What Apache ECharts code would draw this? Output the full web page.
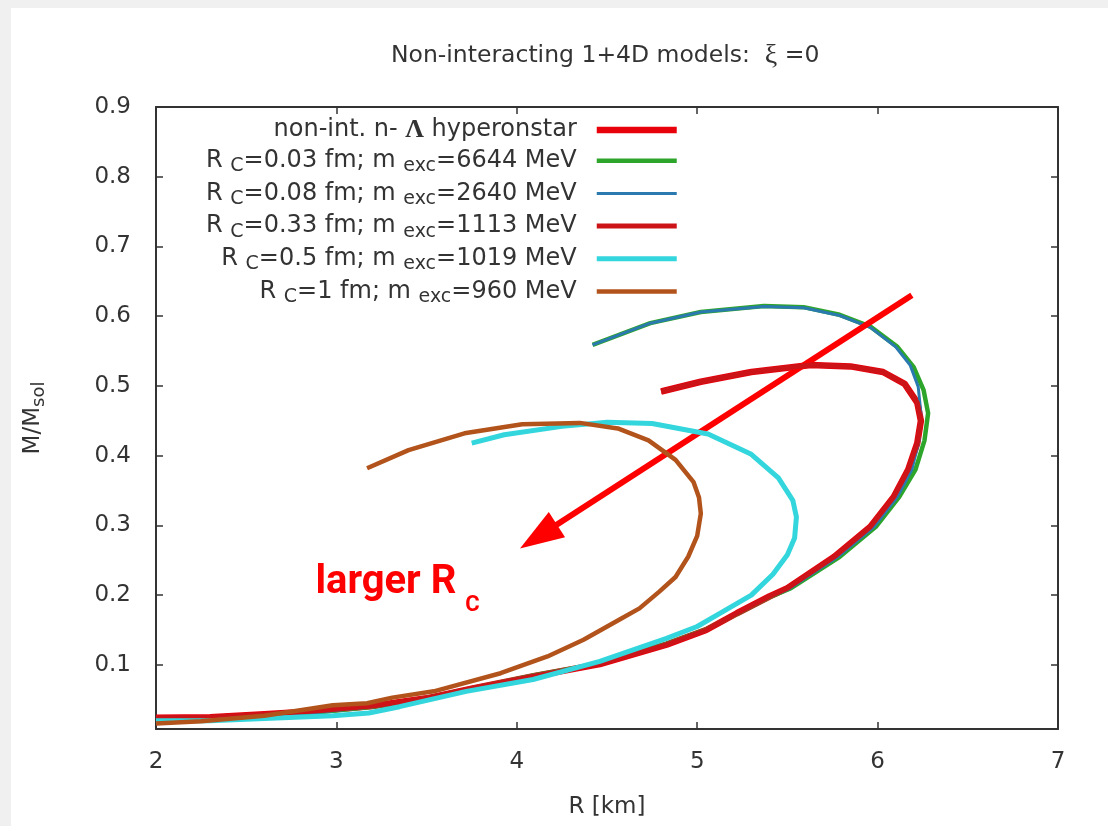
<!DOCTYPE html>
<html>
<head>
<meta charset="utf-8">
<script src="https://cdn.jsdelivr.net/npm/echarts@6/dist/echarts.min.js"></script>
<style>
  html, body { margin: 0; padding: 0; background: #ffffff; }
  #chart { width: 1108px; height: 826px; }
</style>
</head>
<body>
<div id="chart"></div>
<script>
// Mass-radius curves, each point is [R (km), M (M_sol)], ordered along the sequence
const hyperonStar = [
  [2.00, 0.024], [2.30, 0.025], [2.60, 0.029], [2.90, 0.034], [3.20, 0.041], [3.50, 0.052],
  [3.75, 0.066], [4.10, 0.084], [4.46, 0.101], [4.83, 0.129], [5.05, 0.150], [5.22, 0.174],
  [5.40, 0.198], [5.50, 0.210], [5.76, 0.255], [5.96, 0.298], [6.09, 0.341], [6.17, 0.380],
  [6.22, 0.418], [6.24, 0.450], [6.22, 0.476], [6.15, 0.503], [6.03, 0.520], [5.85, 0.528],
  [5.63, 0.530], [5.30, 0.520], [5.02, 0.506], [4.80, 0.492]
];
const rc003 = [
  [2.00, 0.021], [2.30, 0.023], [2.60, 0.027], [2.90, 0.032], [3.20, 0.040], [3.50, 0.052],
  [3.75, 0.066], [4.10, 0.085], [4.46, 0.102], [4.83, 0.130], [5.05, 0.151], [5.22, 0.173],
  [5.40, 0.197], [5.52, 0.210], [5.79, 0.255], [5.99, 0.298], [6.12, 0.341], [6.21, 0.380],
  [6.26, 0.422], [6.28, 0.461], [6.255, 0.494], [6.20, 0.527], [6.11, 0.556], [5.96, 0.585],
  [5.79, 0.602], [5.59, 0.613], [5.37, 0.6145], [5.02, 0.606], [4.74, 0.590], [4.42, 0.559]
];
const rc008 = [
  [2.00, 0.021], [2.30, 0.023], [2.60, 0.027], [2.90, 0.032], [3.20, 0.040], [3.50, 0.052],
  [3.75, 0.066], [4.10, 0.085], [4.46, 0.102], [4.83, 0.130], [5.05, 0.151], [5.22, 0.173],
  [5.40, 0.197], [5.51, 0.209], [5.78, 0.255], [5.98, 0.298], [6.11, 0.341], [6.19, 0.380],
  [6.23, 0.422], [6.24, 0.461], [6.225, 0.499], [6.18, 0.530], [6.10, 0.556], [5.96, 0.584],
  [5.79, 0.601], [5.59, 0.612], [5.37, 0.614], [5.02, 0.606], [4.74, 0.590], [4.42, 0.559]
];
const rc033 = [
  [2.00, 0.024], [2.30, 0.025], [2.60, 0.029], [2.90, 0.034], [3.20, 0.041], [3.50, 0.052],
  [3.75, 0.066], [4.10, 0.084], [4.46, 0.101], [4.83, 0.129], [5.05, 0.150], [5.22, 0.174],
  [5.40, 0.198], [5.50, 0.210], [5.76, 0.255], [5.96, 0.298], [6.09, 0.341], [6.17, 0.380],
  [6.22, 0.418], [6.24, 0.450], [6.22, 0.476], [6.15, 0.503], [6.03, 0.520], [5.85, 0.528],
  [5.63, 0.530], [5.30, 0.520], [5.02, 0.506], [4.80, 0.492]
];
const rc05 = [
  [2.00, 0.020], [2.30, 0.020], [2.60, 0.023], [2.98, 0.027], [3.18, 0.031], [3.35, 0.040],
  [3.72, 0.062], [4.09, 0.079], [4.46, 0.105], [4.83, 0.138], [5.00, 0.155], [5.14, 0.176],
  [5.30, 0.200], [5.42, 0.230], [5.50, 0.258], [5.54, 0.282], [5.55, 0.312], [5.53, 0.336],
  [5.45, 0.368], [5.30, 0.402], [5.06, 0.431], [4.75, 0.446], [4.50, 0.448], [4.25, 0.442],
  [3.93, 0.430], [3.75, 0.418]
];
const rc1 = [
  [2.00, 0.016], [2.25, 0.019], [2.60, 0.027], [2.80, 0.035], [2.98, 0.042], [3.17, 0.045],
  [3.31, 0.053], [3.54, 0.062], [3.91, 0.088], [4.17, 0.112], [4.37, 0.136], [4.57, 0.165],
  [4.68, 0.181], [4.79, 0.205], [4.88, 0.226], [4.95, 0.255], [5.00, 0.285], [5.02, 0.317],
  [5.01, 0.340], [4.98, 0.362], [4.88, 0.394], [4.73, 0.422], [4.56, 0.439], [4.35, 0.447],
  [4.03, 0.445], [3.71, 0.432], [3.40, 0.408], [3.17, 0.382]
];

// Legend parameters: core radius R_C (fm) and excitation mass m_exc (MeV)
const coreRadii = ['0.03', '0.08', '0.33', '0.5', '1'];
const excitationMasses = ['6644', '2640', '1113', '1019', '960'];
const hyperonName = 'non-int. n-Λ hyperonstar';

// Axis ticks
const xTicks = [2, 3, 4, 5, 6, 7];
const yTicks = [0.1, 0.2, 0.3, 0.4, 0.5, 0.6, 0.7, 0.8, 0.9];

const curves = [hyperonStar, rc003, rc008, rc033, rc05, rc1];
const names = [hyperonName].concat(coreRadii.map((r, i) =>
  'R_C=' + r + ' fm; m_exc=' + excitationMasses[i] + ' MeV'));

const lineColors = ['#e8000b', '#2ca52a', '#2a7ab0', '#cc1418', '#33d6dc', '#b3531c'];
const lineWidths = [6.5, 4.5, 3, 5, 5, 4.5];

const FONT = 'DejaVu Sans';
const TXT = '#333333';

function legendLabel(name) {
  if (name === hyperonName) {
    return '{n|non-int. n- }{g|Λ}{n| hyperonstar}';
  }
  const i = names.indexOf(name) - 1;
  return '{n|R }{s|C}{n|=' + coreRadii[i] + ' fm; m }{s|exc}{n|=' + excitationMasses[i] + ' MeV}';
}

const series = curves.map((pts, i) => ({
  name: names[i],
  type: 'line',
  data: pts,
  showSymbol: false,
  symbol: 'none',
  smooth: false,
  lineStyle: { color: lineColors[i], width: lineWidths[i], join: 'round' },
  itemStyle: { color: lineColors[i] },
  emphasis: { disabled: true },
  z: 2 + i
}));

// Annotation arrow and its caption ride on the last curve so they sit on top
series[5].markLine = {
  silent: true,
  symbol: ['none', 'triangle'],
  symbolSize: [30, 44],
  label: { show: false },
  lineStyle: { color: '#ff0000', width: 6, type: 'solid' },
  emphasis: { disabled: true },
  data: [[{ coord: [6.19, 0.630] }, { coord: [4.12, 0.284] }]]
};
series[5].markPoint = {
  silent: true,
  symbol: 'circle',
  symbolSize: 0,
  label: {
    show: true,
    position: 'inside',
    formatter: '{b|larger R}{s|C}',
    rich: {
      b: { fontFamily: 'Roboto', fontWeight: 'bold', fontSize: 40, color: '#ff0000', lineHeight: 66, verticalAlign: 'middle' },
      s: { fontFamily: 'Roboto', fontWeight: 'bold', fontSize: 22, color: '#ff0000', lineHeight: 2, verticalAlign: 'bottom', padding: [0, 0, 0, 9] }
    }
  },
  data: [{ coord: [3.339, 0.2167] }]
};

const axisLine = { show: true, lineStyle: { color: '#333333', width: 2 } };
const tickStyle = { show: true, inside: true, length: 7, lineStyle: { color: '#333333', width: 1.5 } };

const option = {
  animation: false,
  backgroundColor: '#ffffff',
  graphic: [
    { type: 'rect', silent: true, shape: { x: 0, y: 0, width: 1108, height: 8 }, style: { fill: '#f0f0f0' } },
    { type: 'rect', silent: true, shape: { x: 0, y: 0, width: 11, height: 826 }, style: { fill: '#f0f0f0' } }
  ],
  title: {
    text: '{t|Non-interacting 1+4D models:  }{g|ξ}{t| =0}',
    left: 391,
    top: 42,
    padding: 0,
    textStyle: {
      fontWeight: 'normal',
      rich: {
        t: { fontFamily: FONT, fontWeight: 'normal', fontSize: 23.5, color: TXT, lineHeight: 28 },
        g: { fontFamily: 'Liberation Serif', fontWeight: 'normal', fontSize: 28, color: TXT, lineHeight: 28 }
      }
    }
  },
  legend: {
    data: names,
    orient: 'vertical',
    align: 'right',
    right: 428,
    top: 117,
    padding: 0,
    itemGap: 5.7,
    itemWidth: 80,
    itemHeight: 30,
    selectedMode: false,
    itemStyle: { opacity: 0 },
    lineStyle: { width: 'inherit' },
    formatter: legendLabel,
    textStyle: {
      padding: [0, 15, 0, 0],
      rich: {
        n: { fontFamily: FONT, fontSize: 24, color: TXT, lineHeight: 30, verticalAlign: 'middle' },
        g: { fontFamily: 'Liberation Serif', fontWeight: 'bold', fontSize: 26, color: TXT, lineHeight: 30, verticalAlign: 'middle' },
        s: { fontFamily: FONT, fontSize: 19, color: TXT, lineHeight: 8, verticalAlign: 'bottom' }
      }
    }
  },
  grid: { left: 156, right: 50, top: 107, bottom: 97, containLabel: false },
  xAxis: [
    {
      type: 'value', position: 'bottom', min: 2, max: 7, interval: 1,
      name: 'R [km]', nameLocation: 'middle', nameGap: 67,
      nameTextStyle: { fontFamily: FONT, fontSize: 23, color: TXT },
      axisLine: axisLine, axisTick: tickStyle, splitLine: { show: false },
      axisLabel: { fontFamily: FONT, fontSize: 23, color: TXT, margin: 22 }
    },
    {
      type: 'value', position: 'top', min: 2, max: 7, interval: 1,
      axisLine: axisLine, axisTick: tickStyle, splitLine: { show: false },
      axisLabel: { show: false }
    }
  ],
  yAxis: [
    {
      type: 'value', position: 'left', min: 0.008, max: 0.9,
      name: '{m|M/M}{s|sol}', nameLocation: 'middle', nameGap: 108,
      nameTextStyle: {
        rich: {
          m: { fontFamily: FONT, fontSize: 23, color: TXT, lineHeight: 30, verticalAlign: 'middle' },
          s: { fontFamily: FONT, fontSize: 18, color: TXT, lineHeight: 12, verticalAlign: 'bottom' }
        }
      },
      axisLine: axisLine,
      axisTick: Object.assign({}, tickStyle, { customValues: yTicks }),
      splitLine: { show: false },
      axisLabel: {
        customValues: yTicks, fontFamily: FONT, fontSize: 23, color: TXT, margin: 25,
        formatter: v => v.toFixed(1)
      }
    },
    {
      type: 'value', position: 'right', min: 0.008, max: 0.9,
      axisLine: axisLine,
      axisTick: Object.assign({}, tickStyle, { customValues: yTicks }),
      splitLine: { show: false },
      axisLabel: { show: false }
    }
  ],
  series: series
};

const chart = echarts.init(document.getElementById('chart'), null, { renderer: 'canvas' });
chart.setOption(option);
</script>
</body>
</html>
